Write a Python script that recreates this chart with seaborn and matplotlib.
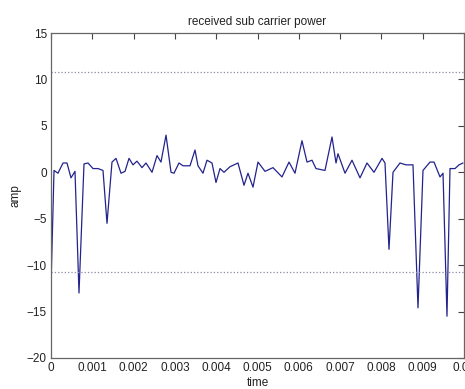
import numpy as np
import pandas as pd
import seaborn as sns
from matplotlib import pyplot as plt

# values (time in ms, amplitude)
time_ms = [0.000, 0.073, 0.169, 0.291, 0.387, 0.484, 0.581, 0.678, 0.799, 0.896,
           1.017, 1.138, 1.259, 1.356, 1.477, 1.574, 1.695, 1.792, 1.889, 1.985,
           2.082, 2.203, 2.300, 2.446, 2.567, 2.663, 2.785, 2.906, 2.978, 3.099,
           3.196, 3.366, 3.487, 3.559, 3.680, 3.777, 3.898, 3.995, 4.092, 4.189,
           4.334, 4.528, 4.673, 4.770, 4.891, 5.012, 5.182, 5.375, 5.593, 5.763,
           5.908, 6.077, 6.199, 6.320, 6.416, 6.634, 6.804, 6.901, 6.949, 7.119,
           7.288, 7.482, 7.651, 7.821, 8.015, 8.087, 8.184, 8.281, 8.450, 8.596,
           8.765, 8.886, 9.007, 9.177, 9.274, 9.419, 9.492, 9.588, 9.661, 9.782,
           9.879, 9.976]
amp = [-12.3, 0.2, -0.1, 1.0, 1.0, -0.6, 0.1, -13.0, 0.9, 1.0,
       0.4, 0.4, 0.2, -5.5, 1.1, 1.5, -0.1, 0.1, 1.5, 0.8,
       1.2, 0.5, 1.0, 0.0, 1.8, 1.1, 4.0, 0.0, -0.1, 1.0,
       0.7, 0.7, 2.4, 0.7, -0.1, 1.3, 1.0, -1.1, 0.4, 0.0,
       0.6, 1.0, -1.4, -0.1, -1.6, 1.1, 0.1, 0.5, -0.5, 1.1,
       -0.1, 3.4, 1.1, 1.3, 0.4, 0.2, 3.8, 1.0, 2.0, -0.1,
       1.3, -0.6, 1.0, 0.0, 1.5, 1.0, -8.3, 0.0, 1.0, 0.8,
       0.8, -14.6, 0.2, 1.1, 1.1, -0.5, -0.1, -15.5, 0.4, 0.4,
       0.8, 1.0]
threshold = 10.76
xticks = [0, 0.001, 0.002, 0.003, 0.004, 0.005, 0.006, 0.007, 0.008, 0.009, 0.01]
xticklabels = ["0", "0.001", "0.002", "0.003", "0.004", "0.005", "0.006",
               "0.007", "0.008", "0.009", "0.01"]
yticks = [-20, -15, -10, -5, 0, 5, 10, 15]

df = pd.DataFrame({"time": np.array(time_ms) * 1e-3, "amp": amp})

sns.set_theme(style="white")
plt.rcParams['font.family'] = ['Liberation Sans', 'DejaVu Sans']

fig = plt.figure(figsize=(4.65, 3.89), dpi=100)
ax = fig.add_axes([51/465, 31/389, 413/465, 325/389])

sns.lineplot(data=df, x="time", y="amp", sort=False, ax=ax,
             color="#23238c", linewidth=0.9)
ax.axhline(threshold, color="#8a8aa8", linestyle=":", linewidth=0.9)
ax.axhline(-threshold, color="#8a8aa8", linestyle=":", linewidth=0.9)

ax.set_xlim(0, 0.01)
ax.set_ylim(-20, 15)
ax.set_xticks(xticks)
ax.set_xticklabels(xticklabels)
ax.set_yticks(yticks)
ax.tick_params(direction="in", length=4, width=0.8, color="#444444",
               top=True, right=True, labelsize=8.5, labelcolor="#222222", pad=3)
for sp in ax.spines.values():
    sp.set_color("#666666")
    sp.set_linewidth(0.9)

ax.set_title("received sub carrier power", fontsize=8.5, color="#222222", pad=6)
ax.set_xlabel("time", fontsize=8.5, color="#222222", labelpad=2)
ax.set_ylabel("amp", fontsize=8.5, color="#222222", labelpad=4)

fig.savefig("out.png", dpi=100)
